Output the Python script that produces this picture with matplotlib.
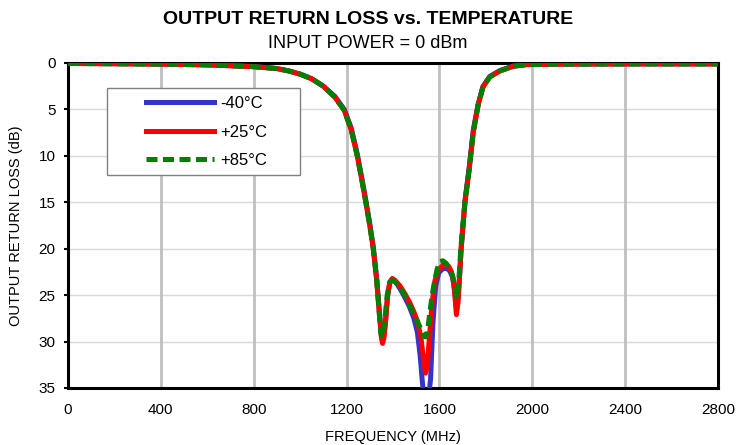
import matplotlib
matplotlib.use("Agg")
import matplotlib.pyplot as plt
from matplotlib.patches import Rectangle

plt.rcParams['font.family'] = ['Liberation Sans', 'DejaVu Sans']

# Frequency (MHz) and return loss (dB) per temperature
freq_m40 = [0, 200, 400, 600, 800, 900, 950, 1000, 1050, 1100, 1150, 1190, 1220, 1246, 1265,
            1283, 1300, 1315, 1330, 1343, 1350, 1356, 1362, 1369, 1377, 1387, 1398, 1410,
            1430, 1450, 1470, 1490, 1505, 1517, 1527, 1545, 1562, 1572, 1584, 1597, 1612,
            1628, 1642, 1656, 1665, 1674, 1681, 1688, 1694, 1710, 1728, 1746, 1767, 1788,
            1817, 1860, 1918, 1975, 2100, 2400, 2800]
rl_m40 = [0.05, 0.08, 0.12, 0.2, 0.38, 0.6, 0.85, 1.2, 1.7, 2.5, 3.6, 5.0, 7.0, 9.8, 12.3,
          14.8, 17.3, 19.8, 23.3, 27.3, 29.3, 29.8, 29.2, 27.5, 25.0, 23.6, 23.3, 23.5,
          24.3, 25.2, 26.2, 27.5, 29.0, 31.5, 34.5, 38.0, 34.0, 28.0, 24.0, 22.6, 22.2,
          22.1, 22.3, 23.0, 24.4, 26.5, 25.2, 22.5, 20.0, 14.8, 11.3, 7.2, 4.4, 2.5,
          1.45, 0.82, 0.32, 0.16, 0.12, 0.1, 0.1]

freq_p25 = [0, 200, 400, 600, 800, 900, 950, 1000, 1050, 1100, 1150, 1190, 1220, 1246, 1265,
            1283, 1300, 1315, 1330, 1343, 1350, 1355, 1361, 1368, 1376, 1386, 1397, 1408,
            1430, 1450, 1470, 1490, 1505, 1520, 1532, 1540, 1548, 1557, 1568, 1580, 1595,
            1610, 1625, 1640, 1652, 1661, 1667, 1673, 1680, 1687, 1693, 1710, 1728, 1746,
            1767, 1788, 1817, 1860, 1918, 1975, 2100, 2400, 2800]
rl_p25 = [0.05, 0.08, 0.12, 0.2, 0.4, 0.6, 0.85, 1.2, 1.7, 2.5, 3.7, 5.1, 7.2, 10.0, 12.5,
          15.0, 17.5, 20.0, 23.5, 27.5, 29.6, 30.2, 29.6, 27.8, 25.2, 23.6, 23.2, 23.4,
          24.0, 24.8, 25.7, 26.8, 27.8, 29.5, 32.0, 33.4, 32.5, 29.5, 26.0, 23.5, 22.3,
          21.9, 21.8, 21.9, 22.5, 23.6, 25.2, 27.1, 25.8, 22.8, 20.0, 15.0, 11.5, 7.4,
          4.5, 2.55, 1.5, 0.86, 0.35, 0.18, 0.12, 0.1, 0.1]

freq_p85 = [0, 200, 400, 600, 800, 900, 950, 1000, 1050, 1100, 1150, 1190, 1220, 1246, 1265,
            1283, 1300, 1315, 1330, 1341, 1347, 1352, 1358, 1366, 1375, 1386, 1398, 1410,
            1435, 1455, 1473, 1495, 1510, 1522, 1532, 1540, 1548, 1559, 1570, 1580, 1590,
            1602, 1615, 1630, 1645, 1658, 1667, 1673, 1679, 1686, 1692, 1710, 1728, 1746,
            1767, 1788, 1817, 1860, 1918, 1975, 2100, 2400, 2800]
rl_p85 = [0.05, 0.08, 0.12, 0.2, 0.4, 0.6, 0.85, 1.2, 1.7, 2.5, 3.7, 5.1, 7.2, 10.0, 12.5,
          15.0, 17.5, 20.0, 23.4, 27.0, 28.9, 29.6, 29.1, 27.3, 25.0, 23.6, 23.4, 23.6,
          24.4, 25.2, 26.2, 27.3, 28.1, 28.8, 29.4, 29.5, 29.0, 26.8, 24.8, 23.4, 22.2,
          21.4, 21.3, 21.6, 22.2, 23.0, 24.2, 25.4, 24.6, 22.5, 20.0, 15.0, 11.5, 7.4,
          4.5, 2.55, 1.5, 0.86, 0.35, 0.18, 0.12, 0.1, 0.1]

labels = ['-40°C', '+25°C', '+85°C']
x_ticks = [0, 400, 800, 1200, 1600, 2000, 2400, 2800]
y_ticks = [0, 5, 10, 15, 20, 25, 30, 35]

fig = plt.figure(figsize=(7.38, 4.45), dpi=100)
ax = fig.add_axes([68/738, 1-388/445, 650/738, 325/445])

ax.plot(freq_m40, rl_m40, color='#3434CC', lw=3.6, label=labels[0], zorder=3)
ax.plot(freq_p25, rl_p25, color='#FF0000', lw=3.6, label=labels[1], zorder=4)
ax.plot(freq_p85, rl_p85, color='#008000', lw=3.6, ls=(0, (2.2, 1.1)), label=labels[2], zorder=5)

ax.set_xlim(0, 2800)
ax.set_ylim(35, 0)
ax.set_xticks(x_ticks)
ax.set_yticks(y_ticks)
ax.tick_params(axis='x', length=0, labelsize=11, pad=11)
ax.tick_params(axis='y', length=3, width=1.5, direction='out', labelsize=11, pad=6)

for x in x_ticks[1:-1]:
    ax.axvline(x, color='#C0C0C0', lw=2.0, zorder=1)
for y in y_ticks[1:-1]:
    ax.axhline(y, color='#D9D9D9', lw=1.0, zorder=0.5)

for s in ax.spines.values():
    s.set_linewidth(2.2)
    s.set_color('black')

ax.set_xlabel('FREQUENCY (MHz)', fontsize=10.5, labelpad=9)
ax.set_ylabel('OUTPUT RETURN LOSS (dB)', fontsize=10.5, labelpad=11)

fig.text(368/738, 1-19/445, 'OUTPUT RETURN LOSS vs. TEMPERATURE', ha='center', va='center',
         fontsize=14, fontweight='bold')
fig.text(368/738, 1-43/445, 'INPUT POWER = 0 dBm', ha='center', va='center', fontsize=13)

# legend frame box
box = Rectangle((107/738, 1-175/445), 193/738, 87/445, transform=fig.transFigure,
                facecolor='white', edgecolor='#808080', lw=1.0, zorder=6, clip_on=False)
ax.add_patch(box)

leg = ax.legend(loc='upper left', bbox_to_anchor=((146-68)/650, (388-96)/325),
                frameon=False, fontsize=12, handlelength=4.1,
                borderpad=0.0, labelspacing=0.82, handletextpad=0.35, borderaxespad=0)
leg.set_zorder(7)

fig.savefig('out.png', dpi=100)
